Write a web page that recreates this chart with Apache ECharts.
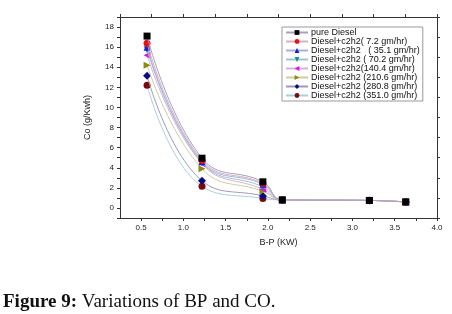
<!DOCTYPE html>
<html>
<head>
<meta charset="utf-8">
<style>
  html, body { margin: 0; padding: 0; background: #fff; }
  #chart { width: 452px; height: 314px; }
</style>
<script src="https://cdn.jsdelivr.net/npm/echarts@6/dist/echarts.min.js"></script>
</head>
<body>
<div id="chart"></div>
<script>
// brake power (KW) for each measured point
var bp = [0.57, 1.22, 1.94, 2.17, 3.2, 3.63]

var seriesNames = [
  'pure Diesel',
  'Diesel+c2h2( 7.2 gm/hr)',
  'Diesel+c2h2   ( 35.1 gm/hr)',
  'Diesel+c2h2 ( 70.2 gm/hr)',
  'Diesel+c2h2(140.4 gm/hr)',
  'Diesel+c2h2 (210.6 gm/hr)',
  'Diesel+c2h2 (280.8 gm/hr)',
  'Diesel+c2h2 (351.0 gm/hr)'
]

// CO (g/Kwh)
var pureDiesel = [17.1, 4.95, 2.6, 0.8, 0.75, 0.6]
var c2h2_7 = [16.4, 4.75, 2.45, 0.8, 0.75, 0.6]
var c2h2_35 = [16.0, 4.6, 2.35, 0.8, 0.75, 0.6]
var c2h2_70 = [15.75, 4.5, 2.1, 0.8, 0.75, 0.6]
var c2h2_140 = [15.2, 4.4, 1.85, 0.8, 0.75, 0.6]
var c2h2_210 = [14.2, 3.9, 1.65, 0.8, 0.75, 0.6]
var c2h2_280 = [13.15, 2.7, 1.2, 0.8, 0.75, 0.6]
var c2h2_351 = [12.2, 2.15, 0.95, 0.8, 0.75, 0.6]

var allData = [pureDiesel, c2h2_7, c2h2_35, c2h2_70, c2h2_140, c2h2_210, c2h2_280, c2h2_351]

var markColors = ['#000000', '#e8101a', '#1a1ad8', '#1a8a8a', '#e010e0', '#8a8a10', '#0a0a80', '#7a0a0a']
var lineColors = ['#a8a0b8', '#d8b0c0', '#a8b0d8', '#a0c4cc', '#d8b0e0', '#cccca0', '#9c98bc', '#a8d0dc']
var symbols = ['rect', 'circle', 'triangle', 'triangle', 'triangle', 'triangle', 'diamond', 'circle']
var rotates = [0, 0, 0, 180, 90, -90, 0, 0]

var chart = echarts.init(document.getElementById('chart'))

var series = allData.map(function (vals, i) {
  return {
    name: seriesNames[i],
    type: 'line',
    smooth: 0.45,
    data: vals.map(function (v, j) { return [bp[j], v] }),
    symbol: symbols[i],
    symbolRotate: rotates[i],
    symbolSize: symbols[i] === 'diamond' ? 8 : 7,
    showAllSymbol: true,
    z: 10 - i,
    lineStyle: { width: 1, color: lineColors[i] },
    itemStyle: { color: markColors[i] },
    emphasis: { disabled: true }
  }
})

var tickFont = { fontFamily: 'Liberation Sans', fontSize: 8, color: '#222' }
var frameLine = { show: true, onZero: false, lineStyle: { color: '#333', width: 1 } }
var frameTick = { show: true, length: 3, lineStyle: { color: '#333' } }

chart.setOption({
  animation: false,
  grid: { left: 120, top: 17, right: 15, bottom: 96, show: false },
  legend: {
    orient: 'vertical',
    left: 282,
    top: 27,
    padding: [1, 3, 1, 3],
    itemWidth: 22,
    itemHeight: 6,
    itemGap: 0,
    borderColor: '#999',
    borderWidth: 1,
    backgroundColor: '#fff',
    textStyle: { fontFamily: 'Liberation Sans', fontSize: 9, lineHeight: 9, color: '#111', padding: [0, 0, 0, -2] },
    data: seriesNames
  },
  xAxis: [{
    type: 'value',
    min: 0.25,
    max: 4,
    interval: 0.25,
    name: 'B-P (KW)',
    nameLocation: 'middle',
    nameGap: 20,
    nameTextStyle: { fontFamily: 'Liberation Sans', fontSize: 9, color: '#222' },
    axisLine: frameLine,
    axisTick: frameTick,
    splitLine: { show: false },
    axisLabel: Object.assign({
      margin: 6,
      showMinLabel: false,
      formatter: function (v) {
        return Math.abs(v * 2 - Math.round(v * 2)) < 1e-6 ? v.toFixed(1) : ''
      }
    }, tickFont)
  }, {
    type: 'value',
    position: 'top',
    min: 0,
    max: 10,
    interval: 1,
    axisLine: frameLine,
    axisTick: frameTick,
    axisLabel: { show: false },
    splitLine: { show: false }
  }],
  yAxis: [{
    type: 'value',
    min: -1,
    max: 19,
    interval: 1,
    name: 'Co (g/Kwh)',
    nameLocation: 'middle',
    nameGap: 28,
    nameTextStyle: { fontFamily: 'Liberation Sans', fontSize: 9, color: '#222' },
    axisLine: frameLine,
    axisTick: frameTick,
    splitLine: { show: false },
    axisLabel: Object.assign({
      margin: 6,
      formatter: function (v) {
        return (v % 2 === 0) ? String(v) : ''
      }
    }, tickFont)
  }, {
    type: 'value',
    position: 'right',
    min: 0,
    max: 10,
    interval: 1,
    axisLine: frameLine,
    axisTick: frameTick,
    axisLabel: { show: false },
    splitLine: { show: false }
  }],
  graphic: [{
    type: 'text',
    left: 3,
    top: 293,
    style: {
      text: '{b|Figure 9:} Variations of BP and CO.',
      rich: {
        b: { fontFamily: 'Liberation Serif', fontSize: 19, fontWeight: 'bold', fill: '#111' }
      },
      fontFamily: 'Liberation Serif',
      fontSize: 19,
      fill: '#111'
    }
  }],
  series: series
})
</script>
</body>
</html>
